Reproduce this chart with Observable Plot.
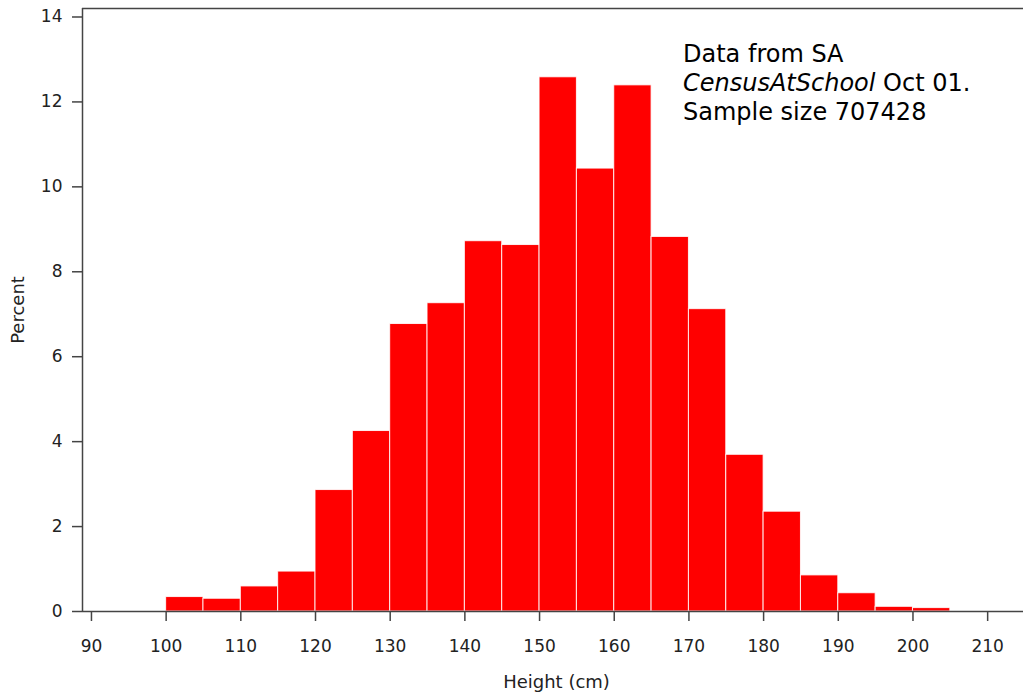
<!DOCTYPE html>
<html><head><meta charset="utf-8">
<script src="https://cdn.jsdelivr.net/npm/d3@7"></script>
<script src="https://cdn.jsdelivr.net/npm/@observablehq/plot@0.6"></script>
<style>
body{margin:0;background:#fff}
#wrap{position:relative;width:1023px;height:693px}
#note{position:absolute;left:683px;top:40px;font-family:"DejaVu Sans";font-size:24px;line-height:29px;color:#000;white-space:nowrap}
</style></head><body>
<div id="wrap"></div>
<script>
// Histogram bins (cm) and percentages
const binStart = [100,105,110,115,120,125,130,135,140,145,150,155,160,165,170,175,180,185,190,195,200];
const binEnd   = [105,110,115,120,125,130,135,140,145,150,155,160,165,170,175,180,185,190,195,200,205];
const percent  = [0.34,0.30,0.59,0.94,2.86,4.25,6.77,7.26,8.72,8.63,12.58,10.43,12.39,8.82,7.12,3.69,2.35,0.85,0.43,0.11,0.08];
const xTicks = [90,100,110,120,130,140,150,160,170,180,190,200,210];
const yTicks = [0,2,4,6,8,10,12,14];
const xDomain = [88.8, 214.8];
const yDomain = [0, 14.2];
const xLabel = "Height (cm)";
const yLabel = "Percent";

const bins = binStart.map((s, i) => ({x1: s, x2: binEnd[i], p: percent[i]}));
const axisColor = "#444";

const chart = Plot.plot({
  width: 1023, height: 693,
  marginLeft: 82, marginRight: 0, marginTop: 8, marginBottom: 82,
  style: {fontFamily: "DejaVu Sans", fontSize: "18px", color: "#222", background: "white"},
  x: {domain: xDomain},
  y: {domain: yDomain},
  marks: [
    Plot.rectY(bins, {x1: "x1", x2: "x2", y: "p", fill: "#ff0000", stroke: "#fff", strokeWidth: 1, strokeOpacity: 0.85}),
    Plot.axisX({ticks: xTicks, tickSize: 10, tickPadding: 18, label: null, stroke: axisColor, strokeWidth: 1.5, fontSize: 17}),
    Plot.axisY({ticks: yTicks, tickSize: 10, tickPadding: 10, label: null, stroke: axisColor, strokeWidth: 1.5, fontSize: 17}),
    Plot.ruleY([yDomain[0]], {stroke: axisColor, strokeWidth: 1.5}),
    Plot.ruleY([yDomain[1]], {stroke: axisColor, strokeWidth: 1.5}),
    Plot.ruleX([xDomain[0]], {stroke: axisColor, strokeWidth: 1.5}),
    Plot.text([xLabel], {text: d => d, frameAnchor: "bottom", textAnchor: "middle", lineAnchor: "middle", dx: 3.5, dy: 71, fontSize: 18, fill: "#222"}),
    Plot.text([yLabel], {text: d => d, frameAnchor: "left", textAnchor: "middle", lineAnchor: "middle", dx: -64, rotate: -90, fontSize: 18, fill: "#222"})
  ]
});
const wrap = document.getElementById("wrap");
wrap.appendChild(chart);
const note = document.createElement("div");
note.id = "note";
note.innerHTML = "Data from SA<br><i>CensusAtSchool</i> Oct 01.<br>Sample size 707428";
wrap.appendChild(note);
</script>
</body></html>
